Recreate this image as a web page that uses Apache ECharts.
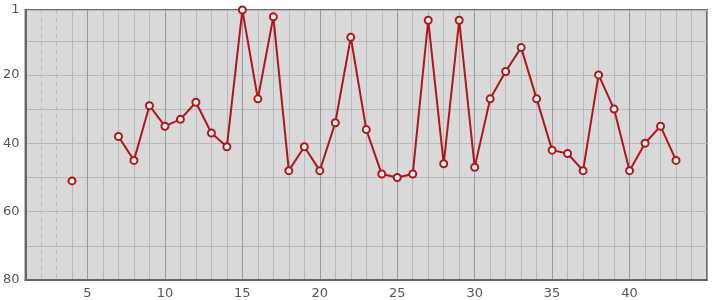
<!DOCTYPE html>
<html><head><meta charset="utf-8">
<script src="https://cdn.jsdelivr.net/npm/echarts@6/dist/echarts.min.js"></script>
<style>html,body{margin:0;padding:0;background:#fff}#c{width:715px;height:300px}</style>
</head><body><div id="c"></div>
<script>
const xValues = [4,5,6,7,8,9,10,11,12,13,14,15,16,17,18,19,20,21,22,23,24,25,26,27,28,29,30,31,32,33,34,35,36,37,38,39,40,41,42,43];
const yValues = [51,null,null,38,45,29,35,33,28,37,41,1,27,3,48,41,48,34,9,36,49,50,49,4,46,4,47,27,19,12,27,42,43,48,20,30,48,40,35,45];
const xLabelsShown = [5,10,15,20,25,30,35,40];
const yLabelsShown = [1,20,40,60,80];
const dashedX = [2,3];

const X_MIN = 1, X_MAX = 45;
const solidColors = [], dashColors = [];
for (let v = X_MIN; v <= X_MAX; v++) {
  solidColors.push(dashedX.includes(v) ? 'rgba(0,0,0,0)' : (v % 5 === 0 ? '#999999' : '#b9b9b9'));
  dashColors.push(dashedX.includes(v) ? '#b9b9b9' : 'rgba(0,0,0,0)');
}
const data = xValues.map((x, i) => [x, yValues[i]]);
const font = {color:'#555', fontSize:13, fontFamily:'DejaVu Sans'};
const chart = echarts.init(document.getElementById('c'), null, {renderer:'canvas'});
chart.setOption({
  animation:false,
  grid:{left:25, right:8, top:10, bottom:18, show:true, backgroundColor:'#d9d9d9', borderColor:'#6e6e6e', borderWidth:2},
  xAxis:[{
    type:'value', min:X_MIN, max:X_MAX, interval:1,
    axisLine:{show:true, lineStyle:{color:'#666', width:2}},
    axisTick:{show:false},
    axisLabel:Object.assign({margin:7, formatter:v => xLabelsShown.includes(v) ? String(v) : ''}, font),
    splitLine:{show:true, lineStyle:{color:solidColors, width:1}}
  },{
    type:'value', min:X_MIN, max:X_MAX, interval:1, position:'bottom',
    axisLine:{show:false}, axisTick:{show:false}, axisLabel:{show:false},
    splitLine:{show:true, lineStyle:{color:dashColors, width:1, type:[4,4]}}
  }],
  yAxis:{
    type:'value', inverse:true, min:1, max:80, minInterval:10, maxInterval:10, splitNumber:8,
    axisLine:{show:true, lineStyle:{color:'#666', width:2}},
    axisTick:{show:false},
    axisLabel:Object.assign({margin:6, formatter:v => yLabelsShown.includes(v) ? String(v) : ''}, font),
    splitLine:{show:true, lineStyle:{color:'#b9b9b9', width:1}}
  },
  series:[{
    type:'line', data:data, connectNulls:false,
    lineStyle:{color:'#b0161b', width:2},
    symbol:'circle', symbolSize:7,
    itemStyle:{color:'#f7f7f7', borderColor:'#b0161b', borderWidth:2},
    clip:false
  }]
});
</script></body></html>
